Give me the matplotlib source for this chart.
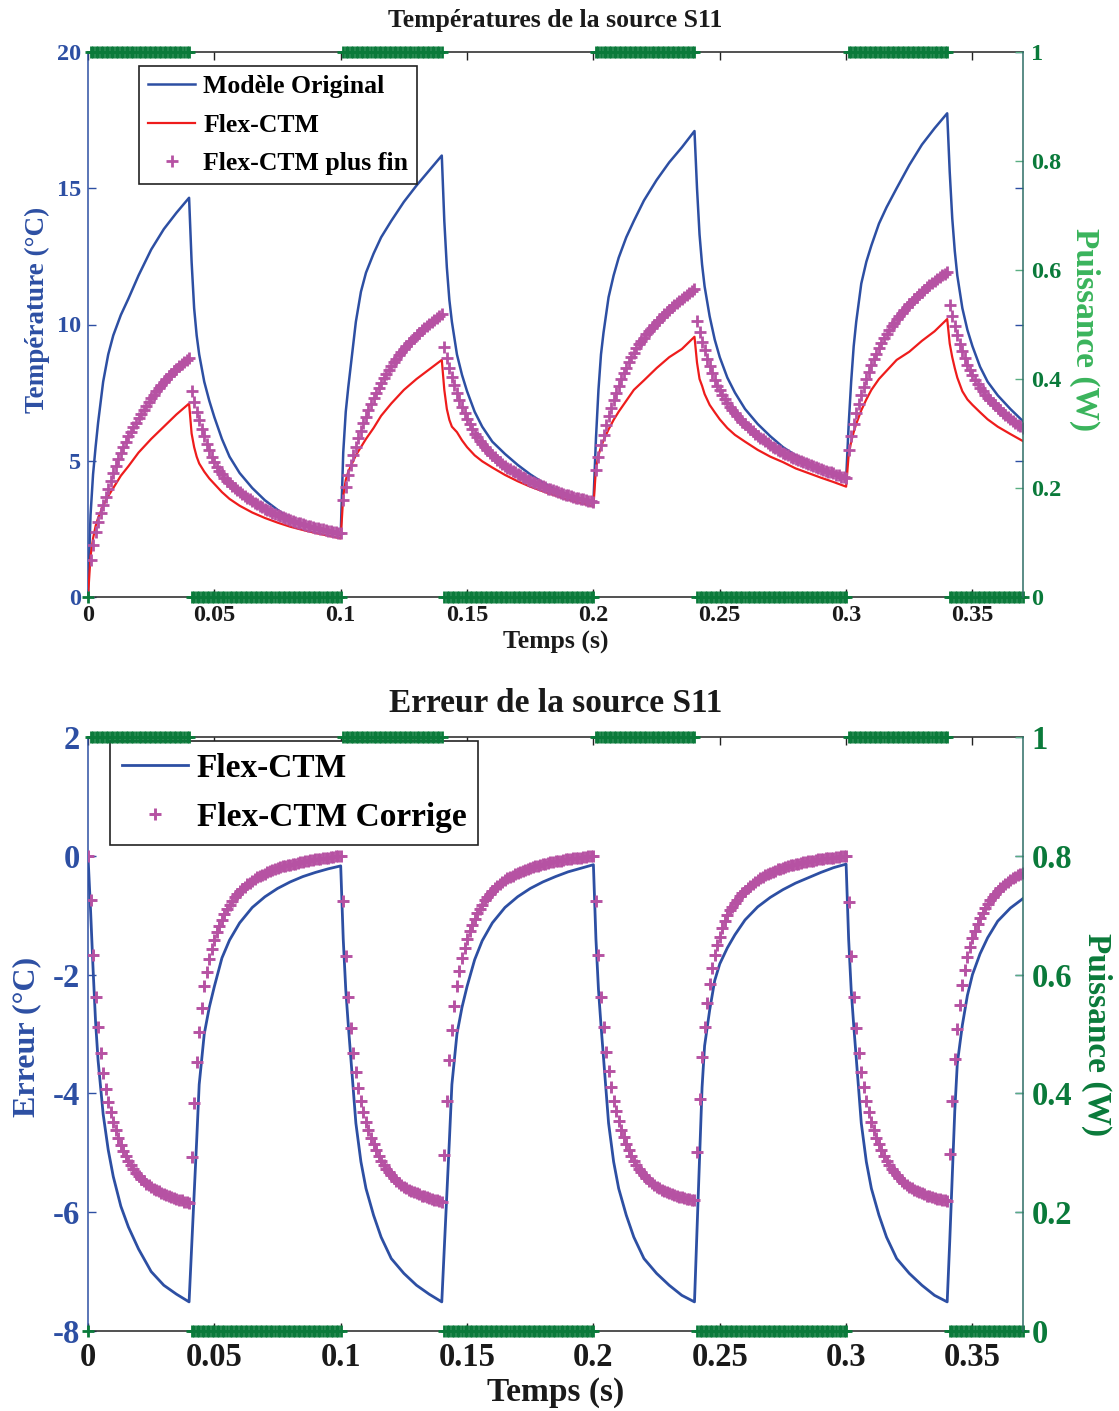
import numpy as np
import matplotlib
matplotlib.use("Agg")
import matplotlib.pyplot as plt

plt.rcParams['font.family'] = ['Liberation Serif', 'DejaVu Serif']
plt.rcParams['font.weight'] = 'bold'
plt.rcParams['axes.unicode_minus'] = False

# ---------------- data ----------------
# marker series are sampled every 1 ms (index = ms)
sample_step_s = 0.001

mag_top = [
 0.00, 1.36, 1.91, 2.40, 2.75, 3.07, 3.37, 3.67, 3.97, 4.26, 4.54, 4.80, 5.05, 5.29, 5.50, 5.70, 5.89, 6.07, 6.24, 6.40,
 6.56, 6.72, 6.88, 7.02, 7.16, 7.30, 7.43, 7.55, 7.67, 7.79, 7.90, 8.00, 8.10, 8.20, 8.29, 8.38, 8.46, 8.54, 8.62, 8.70, 8.77,
 7.55, 7.15, 6.80, 6.48, 6.18, 5.90, 5.63, 5.38, 5.15, 4.94, 4.76, 4.62, 4.50, 4.38, 4.27, 4.17, 4.08, 4.00, 3.92, 3.85,
 3.78, 3.71, 3.64, 3.58, 3.52, 3.46, 3.40, 3.34, 3.29, 3.24, 3.19, 3.14, 3.09, 3.05, 3.01, 2.97, 2.93, 2.89, 2.86, 2.82,
 2.79, 2.76, 2.73, 2.70, 2.67, 2.64, 2.62, 2.59, 2.57, 2.55, 2.52, 2.50, 2.48, 2.46, 2.44, 2.42, 2.40, 2.38, 2.36, 2.34,
 3.55, 4.05, 4.48, 4.86, 5.20, 5.52, 5.82, 6.10, 6.37, 6.62, 6.86, 7.08, 7.29, 7.49, 7.68, 7.86, 8.03, 8.19, 8.34, 8.48,
 8.62, 8.75, 8.87, 8.99, 9.10, 9.21, 9.31, 9.41, 9.51, 9.60, 9.69, 9.78, 9.86, 9.94, 10.02, 10.10, 10.17, 10.24, 10.31, 10.38,
 9.18, 8.78, 8.42, 8.09, 7.78, 7.49, 7.22, 6.97, 6.74, 6.53, 6.34, 6.16, 6.00, 5.86, 5.73, 5.61, 5.50, 5.40, 5.30, 5.21,
 5.12, 5.04, 4.96, 4.89, 4.82, 4.75, 4.69, 4.63, 4.57, 4.51, 4.46, 4.41, 4.36, 4.31, 4.26, 4.22, 4.18, 4.14, 4.10, 4.06,
 4.02, 3.98, 3.95, 3.91, 3.88, 3.85, 3.82, 3.79, 3.76, 3.73, 3.70, 3.68, 3.65, 3.63, 3.60, 3.58, 3.56, 3.54, 3.52, 3.50,
 4.65, 5.15, 5.57, 5.95, 6.30, 6.63, 6.94, 7.23, 7.50, 7.75, 7.99, 8.21, 8.42, 8.61, 8.79, 8.96, 9.12, 9.27, 9.40, 9.52,
 9.64, 9.76, 9.87, 9.98, 10.08, 10.18, 10.28, 10.37, 10.46, 10.55, 10.63, 10.71, 10.79, 10.87, 10.94, 11.01, 11.08, 11.15, 11.22, 11.29,
 10.12, 9.72, 9.37, 9.05, 8.75, 8.47, 8.21, 7.97, 7.76, 7.58, 7.41, 7.26, 7.12, 6.99, 6.87, 6.75, 6.64, 6.54, 6.44, 6.34,
 6.25, 6.16, 6.08, 6.00, 5.92, 5.85, 5.78, 5.71, 5.64, 5.58, 5.52, 5.46, 5.40, 5.35, 5.30, 5.25, 5.20, 5.15, 5.11, 5.07,
 5.03, 4.99, 4.95, 4.91, 4.87, 4.84, 4.80, 4.77, 4.73, 4.70, 4.67, 4.63, 4.60, 4.57, 4.54, 4.49, 4.46, 4.42, 4.39, 4.36,
 5.40, 5.92, 6.36, 6.75, 7.10, 7.42, 7.72, 8.00, 8.26, 8.50, 8.72, 8.93, 9.13, 9.32, 9.49, 9.65, 9.80, 9.94, 10.07, 10.20,
 10.32, 10.43, 10.54, 10.64, 10.74, 10.84, 10.93, 11.02, 11.11, 11.20, 11.28, 11.36, 11.44, 11.52, 11.59, 11.66, 11.73, 11.80, 11.87, 11.94,
 10.72, 10.30, 9.93, 9.60, 9.30, 9.02, 8.76, 8.52, 8.32, 8.15, 7.98, 7.82, 7.68, 7.55, 7.43, 7.32, 7.22, 7.12, 7.03, 6.94,
 6.85, 6.77, 6.69, 6.61, 6.54, 6.47, 6.40, 6.33, 6.27, 6.20,
]

mag_bot = [
 0.00, -0.75, -1.67, -2.37, -2.89, -3.32, -3.65, -3.92, -4.14, -4.32, -4.48, -4.62, -4.75, -4.87, -4.97, -5.06, -5.14, -5.21, -5.28, -5.34,
 -5.39, -5.44, -5.48, -5.52, -5.55, -5.58, -5.61, -5.63, -5.65, -5.67, -5.69, -5.71, -5.73, -5.74, -5.76, -5.77, -5.79, -5.80, -5.82, -5.83, -5.85,
 -5.07, -4.16, -3.47, -2.96, -2.56, -2.20, -1.96, -1.74, -1.57, -1.42, -1.29, -1.18, -1.08, -0.98, -0.90, -0.83, -0.76, -0.70, -0.65, -0.60,
 -0.56, -0.52, -0.48, -0.45, -0.42, -0.39, -0.36, -0.34, -0.32, -0.30, -0.28, -0.26, -0.24, -0.22, -0.21, -0.19, -0.18, -0.17, -0.16, -0.15,
 -0.14, -0.13, -0.12, -0.11, -0.10, -0.09, -0.08, -0.07, -0.07, -0.06, -0.05, -0.05, -0.04, -0.03, -0.03, -0.02, -0.02, -0.01, -0.01, 0.00,
 -0.76, -1.68, -2.38, -2.90, -3.32, -3.64, -3.91, -4.13, -4.31, -4.48, -4.62, -4.75, -4.86, -4.96, -5.05, -5.13, -5.20, -5.27, -5.33, -5.38,
 -5.43, -5.47, -5.51, -5.54, -5.57, -5.60, -5.62, -5.64, -5.66, -5.68, -5.70, -5.72, -5.73, -5.75, -5.76, -5.78, -5.79, -5.80, -5.81, -5.82,
 -5.03, -4.13, -3.43, -2.93, -2.53, -2.19, -1.94, -1.72, -1.55, -1.40, -1.27, -1.16, -1.06, -0.97, -0.89, -0.82, -0.75, -0.69, -0.64, -0.59,
 -0.55, -0.51, -0.47, -0.44, -0.41, -0.38, -0.36, -0.34, -0.31, -0.29, -0.27, -0.25, -0.24, -0.22, -0.20, -0.19, -0.18, -0.17, -0.15, -0.14,
 -0.13, -0.12, -0.11, -0.10, -0.09, -0.09, -0.08, -0.07, -0.06, -0.06, -0.05, -0.04, -0.04, -0.03, -0.03, -0.02, -0.02, -0.01, -0.01, 0.00,
 -0.76, -1.67, -2.37, -2.89, -3.31, -3.63, -3.89, -4.13, -4.29, -4.47, -4.61, -4.74, -4.86, -4.96, -5.05, -5.13, -5.20, -5.27, -5.33, -5.38,
 -5.43, -5.47, -5.51, -5.54, -5.57, -5.60, -5.62, -5.64, -5.66, -5.68, -5.70, -5.71, -5.73, -5.74, -5.75, -5.76, -5.77, -5.78, -5.79, -5.80,
 -4.98, -4.10, -3.38, -2.88, -2.48, -2.16, -1.89, -1.67, -1.50, -1.36, -1.22, -1.10, -0.99, -0.92, -0.86, -0.80, -0.74, -0.68, -0.63, -0.59,
 -0.55, -0.51, -0.47, -0.44, -0.41, -0.38, -0.36, -0.33, -0.31, -0.29, -0.27, -0.25, -0.23, -0.22, -0.20, -0.19, -0.18, -0.16, -0.15, -0.14,
 -0.13, -0.12, -0.11, -0.10, -0.09, -0.08, -0.08, -0.07, -0.06, -0.06, -0.05, -0.04, -0.04, -0.03, -0.03, -0.02, -0.02, -0.01, -0.01, 0.00,
 -0.77, -1.68, -2.38, -2.90, -3.32, -3.64, -3.90, -4.13, -4.31, -4.48, -4.62, -4.75, -4.86, -4.96, -5.05, -5.13, -5.20, -5.27, -5.33, -5.38,
 -5.43, -5.47, -5.51, -5.54, -5.57, -5.60, -5.62, -5.64, -5.66, -5.68, -5.70, -5.72, -5.73, -5.75, -5.76, -5.77, -5.78, -5.79, -5.80, -5.81,
 -5.02, -4.12, -3.42, -2.92, -2.52, -2.18, -1.93, -1.71, -1.54, -1.39, -1.26, -1.15, -1.05, -0.96, -0.88, -0.81, -0.75, -0.69, -0.64, -0.59,
 -0.55, -0.51, -0.47, -0.44, -0.41, -0.38, -0.36, -0.33, -0.31, -0.29,
]

# power square wave (W), given as run lengths of 1 ms samples
power_levels = [0, 1, 0, 1, 0, 1, 0, 1, 0]
power_runs = [1, 40, 60, 40, 60, 40, 60, 40, 30]

# line series: time stamps in ms
line_t_ms = [
 0, 1, 2, 3, 4, 6, 8, 10, 13, 16, 20, 25, 30, 35, 40, 41, 42, 43, 44, 46, 48, 50, 53, 56, 60, 65, 70, 75, 80, 85, 90, 95,
 100, 101, 102, 103, 104, 106, 108, 110, 113, 116, 120, 125, 130, 135, 140, 141, 142, 143, 144, 146, 148, 150, 153, 156, 160, 165, 170, 175, 180, 185, 190, 195,
 200, 201, 202, 203, 204, 206, 208, 210, 213, 216, 220, 225, 230, 235, 240, 241, 242, 243, 244, 246, 248, 250, 253, 256, 260, 265, 270, 275, 280, 285, 290, 295,
 300, 301, 302, 303, 304, 306, 308, 310, 313, 316, 320, 325, 330, 335, 340, 341, 342, 343, 344, 346, 348, 350, 353, 356, 360, 365, 370,
]

original_top = [
 0.0, 3.0, 4.5, 5.5, 6.4, 7.9, 8.9, 9.6, 10.35, 10.95, 11.8, 12.75, 13.5, 14.1, 14.65,
 12.3, 10.6, 9.6, 8.9, 7.9, 7.2, 6.6, 5.8, 5.15, 4.55, 4.0, 3.55, 3.2, 2.88, 2.65, 2.48, 2.36,
 2.28, 5.3, 6.8, 7.7, 8.5, 10.1, 11.2, 11.9, 12.6, 13.2, 13.8, 14.5, 15.1, 15.65, 16.2,
 13.8, 12.1, 10.9, 10.1, 8.9, 8.15, 7.55, 6.8, 6.25, 5.7, 5.25, 4.85, 4.5, 4.2, 3.95, 3.75, 3.6,
 3.44, 5.8, 7.6, 8.9, 9.7, 11.0, 11.8, 12.45, 13.2, 13.8, 14.55, 15.3, 15.95, 16.5, 17.1,
 15.0, 13.3, 12.2, 11.4, 10.3, 9.45, 8.8, 8.05, 7.5, 6.9, 6.35, 5.9, 5.5, 5.2, 4.95, 4.7, 4.5,
 4.3, 6.3, 7.9, 9.2, 10.1, 11.5, 12.3, 12.9, 13.7, 14.3, 15.0, 15.85, 16.6, 17.2, 17.75,
 15.6, 13.9, 12.7, 11.8, 10.6, 9.8, 9.2, 8.45, 7.9, 7.4, 6.9, 6.45,
]

flexctm_top = [
 0.0, 1.5, 2.15, 2.6, 2.9, 3.35, 3.7, 4.0, 4.45, 4.8, 5.3, 5.8, 6.25, 6.7, 7.1,
 6.0, 5.5, 5.15, 4.9, 4.6, 4.35, 4.15, 3.85, 3.6, 3.35, 3.1, 2.9, 2.73, 2.58, 2.46, 2.35, 2.25,
 2.15, 3.7, 4.3, 4.6, 4.8, 5.2, 5.5, 5.8, 6.2, 6.65, 7.1, 7.6, 8.0, 8.35, 8.7,
 7.6, 6.9, 6.5, 6.25, 6.05, 5.75, 5.5, 5.2, 4.98, 4.75, 4.48, 4.25, 4.05, 3.88, 3.72, 3.57, 3.45,
 3.32, 4.7, 5.2, 5.5, 5.75, 6.15, 6.5, 6.8, 7.2, 7.6, 7.95, 8.4, 8.8, 9.1, 9.55,
 8.6, 8.0, 7.75, 7.45, 7.05, 6.78, 6.52, 6.2, 5.95, 5.7, 5.4, 5.15, 4.95, 4.72, 4.55, 4.38, 4.22,
 4.05, 5.2, 5.7, 6.05, 6.35, 6.85, 7.25, 7.6, 8.0, 8.3, 8.7, 9.0, 9.4, 9.75, 10.2,
 9.3, 8.8, 8.4, 8.05, 7.55, 7.25, 7.05, 6.78, 6.52, 6.25, 5.98, 5.72,
]

flexctm_err = [
 0.0, -0.9, -1.9, -2.8, -3.45, -4.35, -4.95, -5.4, -5.9, -6.25, -6.62, -7.0, -7.23, -7.38, -7.51,
 -6.6, -5.7, -4.8, -3.85, -3.0, -2.55, -2.2, -1.72, -1.42, -1.13, -0.87, -0.69, -0.55, -0.44, -0.35, -0.28, -0.22,
 -0.17, -1.4, -2.25, -2.85, -3.4, -4.5, -5.15, -5.6, -6.05, -6.42, -6.78, -7.03, -7.23, -7.38, -7.51,
 -6.6, -5.7, -4.8, -3.85, -3.0, -2.55, -2.2, -1.75, -1.43, -1.13, -0.87, -0.69, -0.55, -0.44, -0.35, -0.27, -0.21,
 -0.15, -1.4, -2.25, -2.85, -3.4, -4.5, -5.15, -5.6, -6.05, -6.42, -6.78, -7.03, -7.23, -7.4, -7.51,
 -6.3, -5.1, -3.9, -3.2, -2.6, -2.1, -1.82, -1.55, -1.33, -1.08, -0.86, -0.7, -0.57, -0.46, -0.37, -0.28, -0.2,
 -0.14, -1.4, -2.25, -2.85, -3.4, -4.5, -5.15, -5.6, -6.05, -6.42, -6.78, -7.03, -7.23, -7.4, -7.51,
 -6.5, -5.4, -4.3, -3.5, -2.85, -2.35, -2.0, -1.65, -1.38, -1.1, -0.88, -0.72,
]

x_ticks = [0, 0.05, 0.1, 0.15, 0.2, 0.25, 0.3, 0.35]
x_ticklabels = ['0', '0.05', '0.1', '0.15', '0.2', '0.25', '0.3', '0.35']
top_yticks = [0, 5, 10, 15, 20]
bot_yticks = [-8, -6, -4, -2, 0, 2]
pow_ticks = [0, 0.2, 0.4, 0.6, 0.8, 1]
pow_ticklabels = ['0', '0.2', '0.4', '0.6', '0.8', '1']

# ---------------- derived ----------------
t_mark = np.arange(len(mag_top)) * sample_step_s
power = np.repeat(power_levels, power_runs)
t_line = np.array(line_t_ms) / 1000.0

# ---------------- style ----------------
C_BLUE = '#2D4FA3'
C_RED = '#EE1C1C'
C_MAG = '#B652A3'
C_GREEN = '#0A7A3A'
C_GREEN_LIGHT = '#3AB45C'
C_GREEN_TICK = '#5AAE82'
C_SPINE_R = '#2E6E66'

W, H = 1119, 1411
fig = plt.figure(figsize=(W / 100, H / 100), dpi=100)


def setup(ax, axr, ylim, yticks, fs_tick, ypad_l, ypad_r, xpad):
    ax.set_xlim(0, 0.37)
    ax.set_ylim(*ylim)
    axr.set_ylim(0, 1)
    ax.set_xticks(x_ticks)
    ax.set_xticklabels(x_ticklabels)
    ax.set_yticks(yticks)
    ax.set_yticklabels([str(v) for v in yticks])
    axr.set_yticks(pow_ticks)
    axr.set_yticklabels(pow_ticklabels)
    ax.tick_params(axis='x', direction='in', top=True, bottom=True, length=6, width=1,
                   color='#222222', labelsize=fs_tick, pad=xpad, labelcolor='#1a1a1a')
    ax.tick_params(axis='y', direction='in', left=True, right=True, length=6, width=1,
                   color=C_BLUE, labelcolor=C_BLUE, labelsize=fs_tick, pad=ypad_l)
    axr.tick_params(axis='y', direction='in', left=False, right=True, length=6, width=1,
                    color=C_GREEN_TICK, labelcolor=C_GREEN, labelsize=fs_tick, pad=ypad_r)
    for lab in ax.get_xticklabels() + ax.get_yticklabels() + axr.get_yticklabels():
        lab.set_fontweight('bold')
    for s in ['top', 'bottom']:
        ax.spines[s].set_color('#222222')
        ax.spines[s].set_linewidth(1.1)
    ax.spines['left'].set_color(C_BLUE)
    ax.spines['left'].set_linewidth(1.1)
    ax.spines['right'].set_visible(False)
    for s in ['top', 'bottom', 'left']:
        axr.spines[s].set_visible(False)
    axr.spines['right'].set_color(C_SPINE_R)
    axr.spines['right'].set_linewidth(1.1)


# ---------- top axes ----------
ax1 = fig.add_axes([88 / W, 1 - 597 / H, 935 / W, 545 / H])
ax1r = ax1.twinx()
setup(ax1, ax1r, (0, 20), top_yticks, 17.5, 5, 6, 6)

ax1.plot(t_line, original_top, color=C_BLUE, lw=1.8, label='Modèle Original', zorder=3)
ax1.plot(t_line, flexctm_top, color=C_RED, lw=1.6, label='Flex-CTM', zorder=3)
ax1.plot(t_mark, mag_top, ls='none', marker='+', ms=8.5, mew=2.0, color=C_MAG,
         label='Flex-CTM plus fin', zorder=4)
ax1r.plot(t_mark, power, ls='none', marker='+', ms=8, mew=2.0, color=C_GREEN, clip_on=False)

leg1 = ax1.legend(loc='upper left', bbox_to_anchor=(0.0545, 0.974), borderaxespad=0,
                  fancybox=False, edgecolor='#222222', framealpha=1, numpoints=1,
                  prop={'size': 18.5, 'weight': 'bold'}, handlelength=1.85,
                  handletextpad=0.3, labelspacing=0.6, borderpad=0.35)
leg1.get_frame().set_linewidth(1.2)

fig.text(555.5 / W, 1 - 20 / H, 'Températures de la source S11', ha='center', va='center',
         fontsize=18.5, fontweight='bold', color='#1a1a1a')
fig.text(555.5 / W, 1 - 642 / H, 'Temps (s)', ha='center', va='center',
         fontsize=18.5, fontweight='bold', color='#1a1a1a')
fig.text(37 / W, 1 - 310 / H, 'Température (°C)', ha='center', va='center', rotation=90,
         fontsize=19.5, fontweight='bold', color=C_BLUE)
fig.text(1085 / W, 1 - 330 / H, 'Puissance (W)', ha='center', va='center', rotation=270,
         fontsize=24, fontweight='bold', color=C_GREEN_LIGHT)

# ---------- bottom axes ----------
ax2 = fig.add_axes([88 / W, 1 - 1331 / H, 935 / W, 594 / H])
ax2r = ax2.twinx()
setup(ax2, ax2r, (-8, 2), bot_yticks, 23.5, 6, 6, 8)

ax2.plot(t_line, flexctm_err, color=C_BLUE, lw=2.0, label='Flex-CTM', zorder=3)
ax2.plot(t_mark, mag_bot, ls='none', marker='+', ms=9, mew=2.1, color=C_MAG,
         label='Flex-CTM Corrige', zorder=4)
ax2r.plot(t_mark, power, ls='none', marker='+', ms=8, mew=2.0, color=C_GREEN, clip_on=False)

leg2 = ax2.legend(loc='upper left', bbox_to_anchor=(0.0235, 0.993), borderaxespad=0,
                  fancybox=False, edgecolor='#222222', framealpha=1, numpoints=1,
                  prop={'size': 24, 'weight': 'bold'}, handlelength=2.0,
                  handletextpad=0.25, labelspacing=0.55, borderpad=0.35)
leg2.get_frame().set_linewidth(1.2)

fig.text(555.5 / W, 1 - 704 / H, 'Erreur de la source S11', ha='center', va='center',
         fontsize=24, fontweight='bold', color='#1a1a1a')
fig.text(555.5 / W, 1 - 1393 / H, 'Temps (s)', ha='center', va='center',
         fontsize=24, fontweight='bold', color='#1a1a1a')
fig.text(27 / W, 1 - 1037 / H, 'Erreur (°C)', ha='center', va='center', rotation=90,
         fontsize=23, fontweight='bold', color=C_BLUE)
fig.text(1097 / W, 1 - 1035 / H, 'Puissance (W)', ha='center', va='center', rotation=270,
         fontsize=24, fontweight='bold', color=C_GREEN)

fig.savefig('out.png', dpi=100)
